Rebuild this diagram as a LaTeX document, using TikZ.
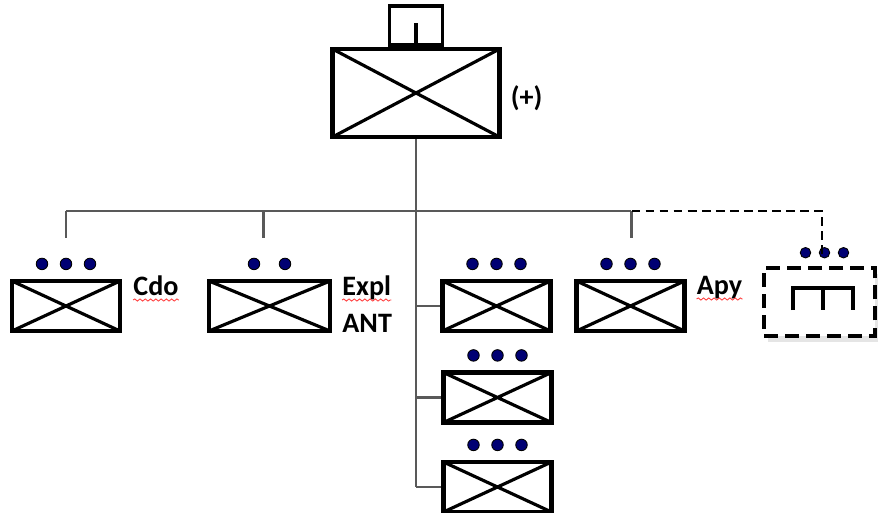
\documentclass[tikz,border=0pt]{standalone}
\usepackage{fontspec}
\setmainfont{Carlito}
\usetikzlibrary{shadows, decorations.pathmorphing}

\tikzset{
  hqbox/.style={draw, line width=2.4pt, minimum width=2.16cm, minimum height=1cm, inner sep=0pt,
    path picture={\draw[line width=1.8pt] (path picture bounding box.north west) -- (path picture bounding box.south east)
      (path picture bounding box.south west) -- (path picture bounding box.north east);}},
  link/.style={draw=black!65, line width=1.3pt},
  pip/.style={circle, fill=blue!45!black, draw=black, line width=0.5pt, minimum size=0.23cm, inner sep=0pt},
  lbl/.style={font=\bfseries\fontsize{16}{18}\selectfont, inner sep=0pt, anchor=base west},
  spell/.style={draw=red!75, line width=0.5pt, decorate, decoration={snake, amplitude=0.6pt, segment length=3pt}}
}

\begin{document}
\begin{tikzpicture}[x=0.02cm, y=-0.02cm]
   \clip (0,0) rectangle (880,512);
   \fill[white] (0,0) rectangle (880,512);

   % headquarters
   \node[hqbox, minimum width=3.34cm, minimum height=1.76cm] (hq) at (416,93) {};
   \node[draw, line width=2.2pt, minimum width=1.06cm, minimum height=0.78cm, inner sep=0pt, anchor=south] (tab) at (hq.north) {};
   \draw[line width=1.8pt] (tab.south) -- ++(0,-24);
   \node[lbl, anchor=west] (plus) at ([xshift=0.18cm, yshift=-0.1cm]hq.east) {(+)};

   % subordinate units
   \node[hqbox] (cdo) at (66,306) {};
   \node[hqbox, minimum width=2.42cm] (expl) at (269.5,306) {};
   \node[hqbox] (c1) at (496.5,306) {};
   \node[hqbox] (c2) at (497.5,397.5) {};
   \node[hqbox] (c3) at (497.5,487) {};
   \node[hqbox] (apy) at (630.5,306) {};
   \node[draw, dash pattern=on 8pt off 4pt, line width=2.6pt, fill=white, minimum width=2.22cm, minimum height=1.36cm,
     drop shadow={shadow xshift=0.07cm, shadow yshift=-0.12cm, opacity=0.2}] (asl) at (819.5,302) {};
   \draw[line width=2pt] (793,310) -- (793,288) -- (853,288) -- (853,310);
   \draw[line width=2pt] (823,288) -- (823,310);

   % echelon dots
   \foreach \n in {cdo, c1, c2, c3, apy}
     \foreach \dx in {-24,0,24}
       \node[pip] at ([shift={(\dx,-15)}]\n.north) {};
   \foreach \dx in {-15.5,15.5}
     \node[pip] at ([shift={(\dx,-15)}]expl.north) {};
   \foreach \dx in {-14,5,24}
     \node[pip, minimum size=0.21cm] at ([shift={(\dx,-13)}]asl.north) {};

   % labels
   \node[lbl] (cdo-l) at ([shift={(11,-11)}]cdo.east) {Cdo};
   \node[lbl] (expl-l) at ([shift={(10,-11)}]expl.east) {Expl};
   \node[lbl] (ant-l) at ([shift={(10,26)}]expl.east) {ANT};
   \node[lbl] (apy-l) at ([shift={(10,-12)}]apy.east) {Apy};
   \foreach \n in {cdo-l, expl-l, apy-l}
     \draw[spell] ([yshift=-0.1cm]\n.base west) -- ([yshift=-0.1cm]\n.base east);

   % connectors
   \coordinate (trunk) at (416,211);
   \draw[link] (hq.south) -- (trunk |- c3.west);
   \foreach \n in {c1, c2, c3}
     \draw[link] (trunk |- \n.west) -- (\n.west);
   \draw[link] (cdo.north |- trunk) -- (apy.north |- trunk);
   \foreach \n/\dx in {cdo/0, expl/-6, apy/1}
     \draw[link] ([xshift=\dx*0.02cm]\n.north |- trunk) -- ++(0,27);
   \draw[line width=1.3pt, dash pattern=on 5pt off 3pt] ([xshift=0.02cm]apy.north |- trunk) -- (822,211) -- (822,257);
\end{tikzpicture}
\end{document}
